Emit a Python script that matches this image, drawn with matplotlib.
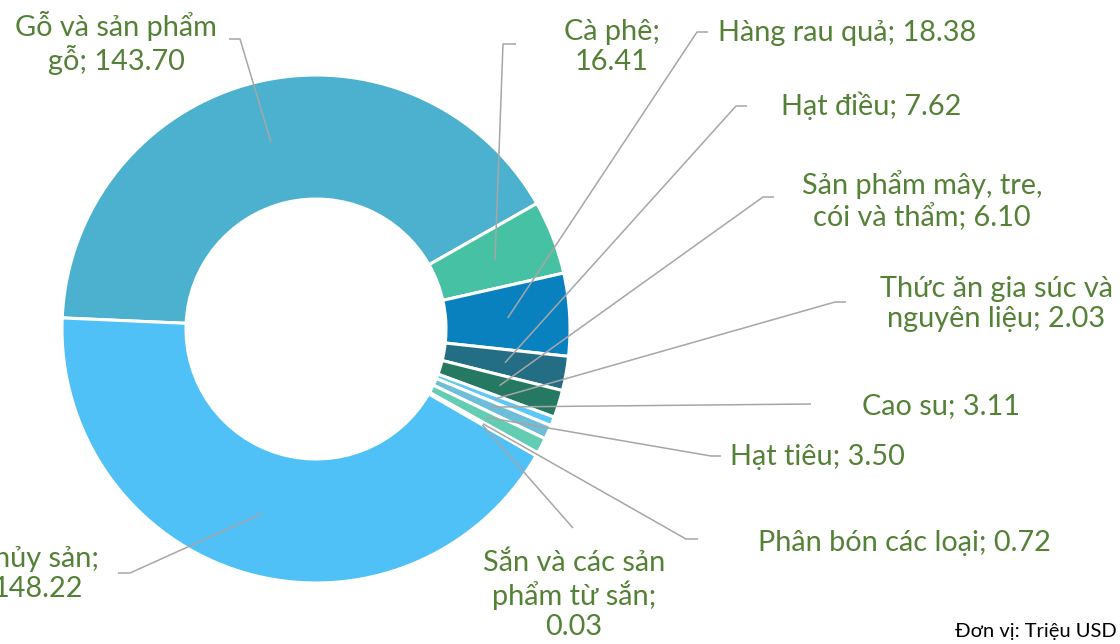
import matplotlib.pyplot as plt
import numpy as np

plt.rcParams['font.family'] = ['Lato', 'Noto Sans', 'DejaVu Sans']

# data (million USD)
names = ["Gỗ và sản phẩm\ngỗ", "Cà phê", "Hàng rau quả", "Hạt điều",
         "Sản phẩm mây, tre,\ncói và thẩm", "Thức ăn gia súc và\nnguyên liệu",
         "Cao su", "Hạt tiêu", "Phân bón các loại",
         "Sắn và các sản\nphẩm từ sắn", "Thủy sản"]
values = [143.70, 16.41, 18.38, 7.62, 6.10, 2.03, 3.11, 3.50, 0.72, 0.03, 148.22]
seps = [" ", "\n", " ", " ", " ", " ", " ", " ", " ", "\n", "\n"]
colors = ["#4bb1cf", "#46c1a3", "#0a81bf", "#236e85", "#257862", "#5bc8f5",
          "#6dbed9", "#63cdb4", "#1f9bd0", "#3aa0a8", "#4fc1f7"]

# label layout in pixel coords (y from top): text x, y, ha, elbow, end of leader
layout = [
    (116, 43, "center", (240, 39), (229, 39)),
    (612, 47, "center", (503, 44), (516, 44)),
    (718, 33, "left", (697, 32), (708, 32)),
    (781, 106, "left", (736, 106), (747, 106)),
    (922, 201, "center", (763, 197), (774, 197)),
    (996, 304, "center", (835, 302), (846, 302)),
    (862, 406, "left", (811, 404), (811, 404)),
    (730, 457, "left", (711, 456), (721, 456)),
    (758, 543, "left", (686, 539), (698, 539)),
    (574, 595, "center", (573, 528), (573, 528)),
    (38, 574, "center", (130, 573), (118, 573)),
]

W, H = 1120, 644
cx, cy, R, ring = 316, 329, 254, 124

fig = plt.figure(figsize=(11.2, 6.44), dpi=100)
ax = fig.add_axes([0, 0, 1, 1])

wedges, _ = ax.pie(values, colors=colors, startangle=177.5, counterclock=False,
                   radius=R, center=(cx, H - cy),
                   wedgeprops=dict(width=ring, edgecolor="white", linewidth=2.2))

green = "#538135"
grey = "#a6a6a6"
for w, name, val, sep, (tx, ty, ha, elbow, end) in zip(wedges, names, values, seps, layout):
    mid = np.deg2rad((w.theta1 + w.theta2) / 2)
    r = R - ring / 2
    ax_x = cx + r * np.cos(mid)
    ax_y = (H - cy) + r * np.sin(mid)
    ax.plot([ax_x, elbow[0], end[0]], [ax_y, H - elbow[1], H - end[1]],
            color=grey, lw=1.1, solid_capstyle="butt", zorder=3)
    ax.text(tx, H - ty, name + ";" + sep + f"{val:.2f}", ha=ha, va="center",
            multialignment="center", fontsize=20.8, color=green, linespacing=1.18)

ax.text(1117, H - 631, "Đơn vị: Triệu USD", ha="right", va="center",
        fontsize=14.5, color="black")

ax.set_xlim(0, W)
ax.set_ylim(0, H)
ax.set_aspect("equal")
ax.axis("off")

plt.savefig("out.png", dpi=100)
